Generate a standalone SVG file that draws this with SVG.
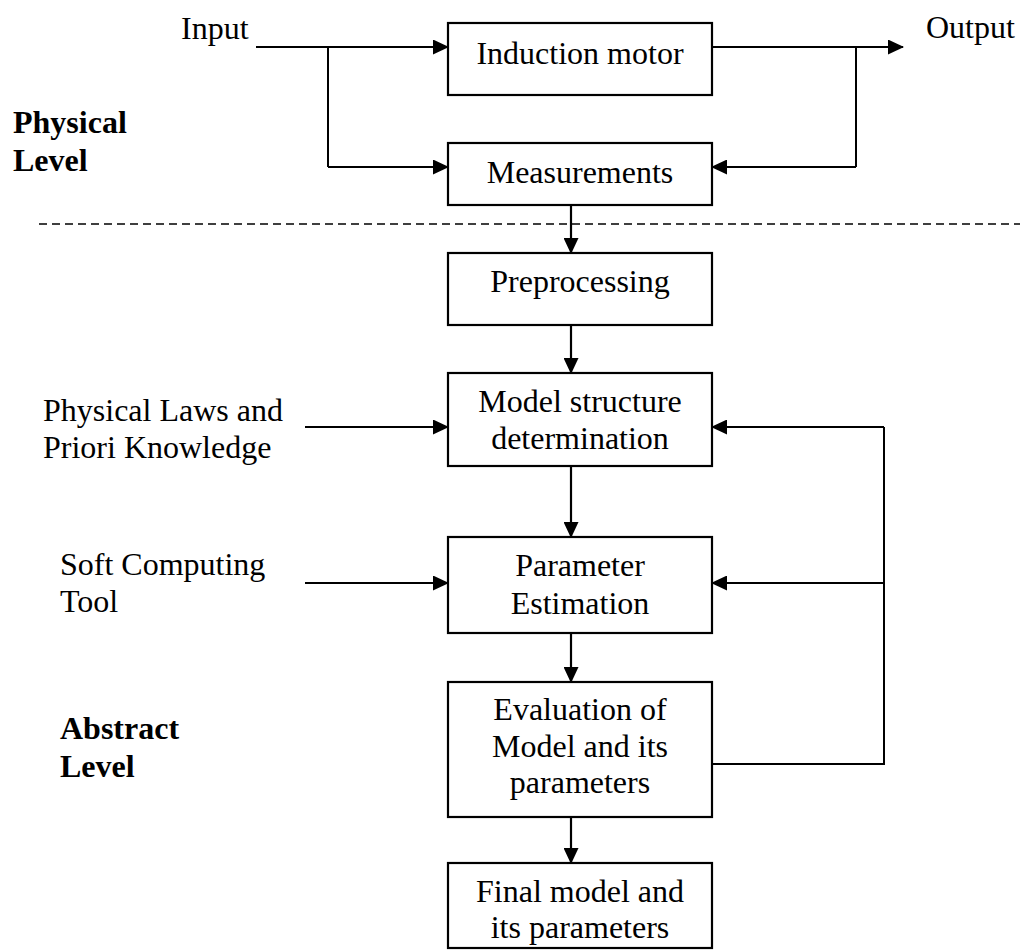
<svg xmlns="http://www.w3.org/2000/svg" width="1020" height="952" viewBox="0 0 1020 952">
<defs>
<marker id="ah" markerWidth="16" markerHeight="15" refX="15" refY="7.5" orient="auto" markerUnits="userSpaceOnUse">
<path d="M0,0 L16,7.5 L0,15 Z" fill="#000"/>
</marker>
<style>
.box{fill:#fff;stroke:#000;stroke-width:2.2}
.t{font-family:"Liberation Serif","Times New Roman",serif;font-size:32px;fill:#000}
.c{text-anchor:middle}
.b{font-weight:bold}
.ln{fill:none;stroke:#000;stroke-width:2}
.ar{fill:none;stroke:#000;stroke-width:2.2;marker-end:url(#ah)}
</style>
</defs>
<rect width="1020" height="952" fill="#fff"/>
<g id="labels">
<text class="t" x="181" y="39">Input</text>
<text class="t" x="926" y="38">Output</text>
<text class="t b" x="13" y="133">Physical</text>
<text class="t b" x="13" y="171">Level</text>
<text class="t" x="43" y="421">Physical Laws and</text>
<text class="t" x="43" y="458">Priori Knowledge</text>
<text class="t" x="60" y="575">Soft Computing</text>
<text class="t" x="60" y="612">Tool</text>
<text class="t b" x="60" y="739">Abstract</text>
<text class="t b" x="60" y="777">Level</text>
</g>
<line x1="39" y1="224" x2="1020" y2="224" stroke="#000" stroke-width="1.5" stroke-dasharray="8,5"/>
<g id="connectors">
<path class="ar" d="M256,47 H448"/>
<path class="ln" d="M328,47 V167"/>
<path class="ar" d="M328,167 H448"/>
<path class="ar" d="M712,47 H903"/>
<path class="ln" d="M856,47 V167"/>
<path class="ar" d="M856,167 H712"/>
<path class="ar" d="M571,205 V253"/>
<path class="ar" d="M571,325 V373"/>
<path class="ar" d="M305,427 H448"/>
<path class="ar" d="M305,583 H448"/>
<path class="ar" d="M571,466 V537"/>
<path class="ar" d="M571,633 V682"/>
<path class="ar" d="M571,815 V863"/>
<path class="ln" d="M712,764 H884 V427"/>
<path class="ar" d="M884,427 H712"/>
<path class="ar" d="M884,583 H712"/>
</g>
<g id="n-motor"><rect class="box" x="448" y="23" width="264" height="72"/><text class="t c" x="580" y="64">Induction motor</text></g>
<g id="n-meas"><rect class="box" x="448" y="143" width="264" height="62"/><text class="t c" x="580" y="183">Measurements</text></g>
<g id="n-pre"><rect class="box" x="448" y="253" width="264" height="72"/><text class="t c" x="580" y="292">Preprocessing</text></g>
<g id="n-model"><rect class="box" x="448" y="373" width="264" height="93"/><text class="t c" x="580" y="412">Model structure</text><text class="t c" x="580" y="449">determination</text></g>
<g id="n-param"><rect class="box" x="448" y="537" width="264" height="96"/><text class="t c" x="580" y="576">Parameter</text><text class="t c" x="580" y="614">Estimation</text></g>
<g id="n-eval"><rect class="box" x="448" y="682" width="264" height="135"/><text class="t c" x="580" y="720">Evaluation of</text><text class="t c" x="580" y="757">Model and its</text><text class="t c" x="580" y="793">parameters</text></g>
<g id="n-final"><rect class="box" x="448" y="863" width="264" height="85"/><text class="t c" x="580" y="902">Final model and</text><text class="t c" x="580" y="938">its parameters</text></g>
</svg>
